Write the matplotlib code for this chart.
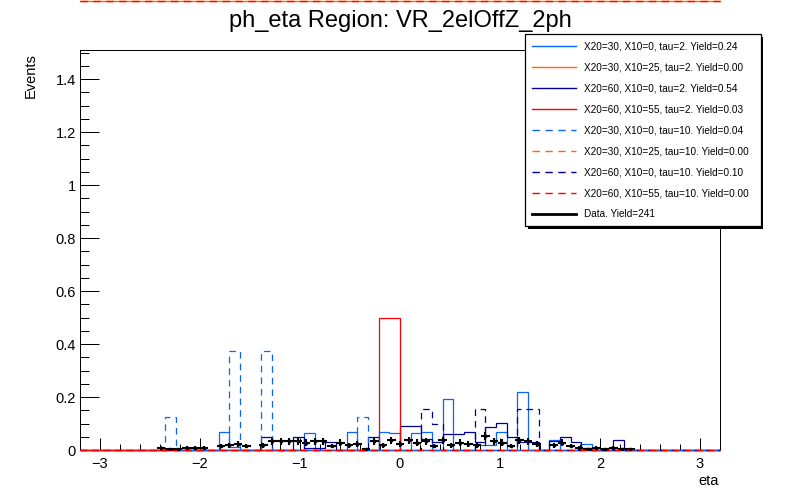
import numpy as np
import matplotlib.pyplot as plt
from matplotlib.lines import Line2D
from matplotlib.patches import Rectangle
from matplotlib.ticker import MultipleLocator, FuncFormatter

plt.rcParams['font.family'] = ['Liberation Sans', 'DejaVu Sans']

# signal histograms, 60 bins over [-3.2, 3.2], only the non-empty bins
sig_edges = np.linspace(-3.2, 3.2, 61)
m30_0_t2_bins = [13, 14, 21, 25, 28, 29, 31, 32, 34, 37, 38, 39, 41, 44, 47]
m30_0_t2_vals = [0.067, 0.010, 0.063, 0.067, 0.067, 0.063, 0.063, 0.067,
                 0.192, 0.019, 0.019, 0.067, 0.218, 0.038, 0.021]
m60_0_t2_bins = [17, 20, 21, 22, 23, 27, 30, 31, 32, 33, 34, 35, 36, 37, 38,
                 39, 40, 41, 42, 44, 45, 46, 47, 50]
m60_0_t2_vals = [0.048, 0.048, 0.009, 0.009, 0.029, 0.048, 0.091, 0.091,
                 0.040, 0.029, 0.060, 0.060, 0.067, 0.029, 0.088, 0.101,
                 0.048, 0.030, 0.029, 0.035, 0.048, 0.029, 0.006, 0.037]
m60_55_t2_bins = [28, 29]
m60_55_t2_vals = [0.5, 0.5]
m30_0_t10_bins = [8, 14, 17, 26]
m30_0_t10_vals = [0.125, 0.375, 0.375, 0.125]
m60_0_t10_bins = [32, 33, 37, 41, 42]
m60_0_t10_vals = [0.154, 0.097, 0.154, 0.154, 0.154]

# data, 75 bins over [-3.2, 3.2], event counts from bin 9 on, unit weight
data_edges = np.linspace(-3.2, 3.2, 76)
data_first_bin = 9
data_counts = [2, 1, 1, 2, 2, 2, 0, 3, 4, 5, 3, 0, 4, 7, 7, 7, 7, 6, 7, 7,
               3, 6, 4, 5, 1, 7, 4, 8, 5, 8, 6, 7, 3, 8, 4, 6, 5, 4, 11, 7,
               6, 3, 8, 7, 5, 0, 4, 6, 3, 2, 1, 2, 1, 2, 1, 1]
data_weight = 0.0047

labels = ['X20=30, X10=0, tau=2. Yield=0.24',
          'X20=30, X10=25, tau=2. Yield=0.00',
          'X20=60, X10=0, tau=2. Yield=0.54',
          'X20=60, X10=55, tau=2. Yield=0.03',
          'X20=30, X10=0, tau=10. Yield=0.04',
          'X20=30, X10=25, tau=10. Yield=0.00',
          'X20=60, X10=0, tau=10. Yield=0.10',
          'X20=60, X10=55, tau=10. Yield=0.00',
          'Data. Yield=241']

BLUE, ORANGE, NAVY, RED = '#0a64ff', '#ff6a00', '#000099', '#ff0000'
DASH = (0, (5.3, 4))


def fill(bins, vals):
    h = np.zeros(len(sig_edges) - 1)
    h[bins] = vals
    return h


def main():
    fig = plt.figure(figsize=(8, 5), dpi=100)
    ax = fig.add_axes([0.1, 0.1, 0.8, 0.8])

    # signal histograms in ROOT drawing order
    hists = [
        (fill(m30_0_t2_bins, m30_0_t2_vals), BLUE, 'solid'),
        (fill([], []), ORANGE, 'solid'),
        (fill(m60_0_t2_bins, m60_0_t2_vals), NAVY, 'solid'),
        (fill(m60_55_t2_bins, m60_55_t2_vals), RED, 'solid'),
        (fill(m30_0_t10_bins, m30_0_t10_vals), BLUE, DASH),
        (fill([], []), ORANGE, DASH),
        (fill(m60_0_t10_bins, m60_0_t10_vals), NAVY, DASH),
        (fill([], []), RED, DASH),
    ]
    handles = []
    for (h, color, ls), label in zip(hists, labels):
        ax.stairs(h, sig_edges, color=color, linestyle=ls, linewidth=0.9,
                  zorder=3, clip_on=False)
        handles.append(Line2D([], [], color=color, linestyle=ls,
                              linewidth=1.0, label=label))

    # data points with poisson errors
    counts = np.array(data_counts, dtype=float)
    lo = data_edges[data_first_bin:data_first_bin + len(counts)]
    hi = data_edges[data_first_bin + 1:data_first_bin + len(counts) + 1]
    centers = 0.5 * (lo + hi)
    keep = counts > 0
    ax.errorbar(centers[keep], counts[keep] * data_weight,
                xerr=0.5 * (hi - lo)[keep],
                yerr=np.sqrt(counts[keep]) * data_weight,
                fmt='s', ms=2.0, color='k', elinewidth=1.5, capsize=0,
                zorder=4)
    handles.append(Line2D([], [], color='k', linewidth=2.0, label=labels[-1]))

    # axes and ticks, ROOT style
    ax.set_xlim(-3.2, 3.2)
    ax.set_ylim(0, 1.51)
    ax.xaxis.set_major_locator(MultipleLocator(1))
    ax.xaxis.set_minor_locator(MultipleLocator(0.2))
    ax.yaxis.set_major_locator(MultipleLocator(0.2))
    ax.yaxis.set_minor_locator(MultipleLocator(0.05))
    fmt = FuncFormatter(lambda v, p: ('%g' % round(v, 6)).replace('-', '\u2212'))
    ax.xaxis.set_major_formatter(fmt)
    ax.yaxis.set_major_formatter(fmt)
    ax.tick_params(axis='x', which='major', direction='in', length=8.6,
                   width=0.72, pad=5, labelsize=10.5)
    ax.tick_params(axis='x', which='minor', direction='in', length=4.3,
                   width=0.72)
    ax.tick_params(axis='y', which='major', direction='in', length=13.7,
                   width=0.72, pad=3, labelsize=10.5)
    ax.tick_params(axis='y', which='minor', direction='in', length=6.8,
                   width=0.72)
    for spine in ax.spines.values():
        spine.set_linewidth(0.72)

    # titles
    fig.text(0.5, 1 - 26.7 / 500, 'ph_eta Region: VR_2elOffZ_2ph',
             ha='center', va='baseline', fontsize=17)
    fig.text(719 / 800, 1 - 485 / 500, 'eta', ha='right', va='baseline',
             fontsize=10.5)
    fig.text(31 / 800, 1 - 53 / 500, 'Events', rotation=90, ha='center',
             va='top', fontsize=10.5)

    # zero-yield samples drawn along the very top of the canvas
    ytop = 1 - 0.8 / 500
    fig.add_artist(Line2D([0.1, 0.9], [ytop, ytop], color=ORANGE, lw=1.0))
    fig.add_artist(Line2D([0.1, 0.9], [ytop, ytop], color=RED, lw=1.0,
                          linestyle=DASH))

    # legend with a thin ROOT-like drop shadow
    leg = fig.legend(handles=handles, loc='upper left', mode='expand',
                     bbox_to_anchor=(525 / 800, 0.5, 235.7 / 800,
                                     1 - 34 / 500 - 0.5),
                     borderaxespad=0, fontsize=7.2, labelspacing=1.1,
                     handlelength=4.35, handletextpad=0.83, borderpad=0.7,
                     fancybox=False, framealpha=1, edgecolor='k')
    leg.get_frame().set_linewidth(0.9)
    leg.set_zorder(10)
    fig.canvas.draw()
    bb = leg.get_window_extent().transformed(fig.transFigure.inverted())
    fig.add_artist(Rectangle((bb.x0 + 2.5 / 800, bb.y0 - 2.5 / 500),
                             bb.width, bb.height, transform=fig.transFigure,
                             facecolor='k', edgecolor='none', zorder=9))

    fig.savefig('out.png', dpi=100)


if __name__ == '__main__':
    main()
